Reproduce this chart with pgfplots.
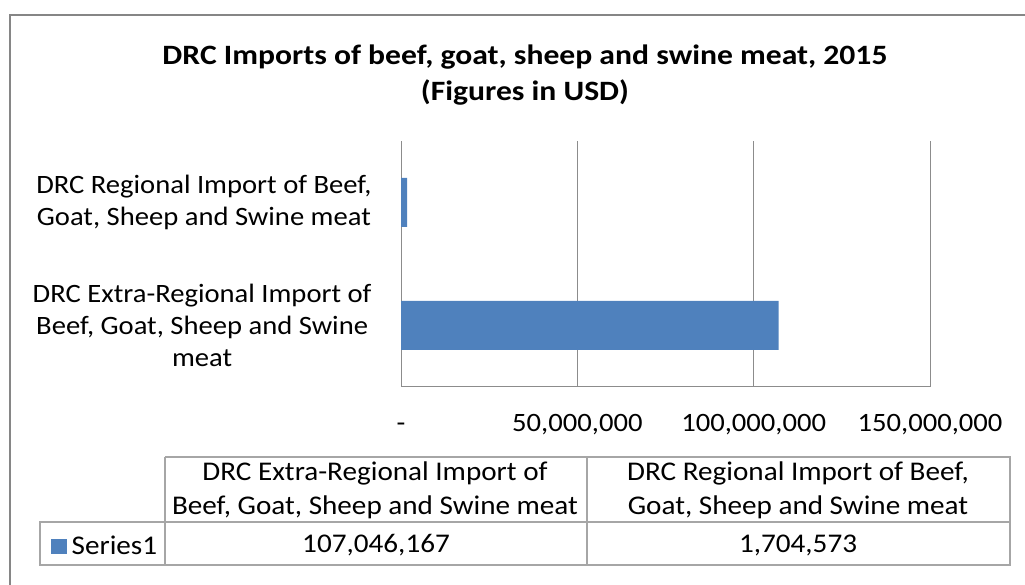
\documentclass[border=0pt]{standalone}
\usepackage{pgfplots}
\pgfplotsset{compat=1.18}
\usepackage{fontspec}
\setmainfont{Carlito}[FakeStretch=1.08]
\newfontfamily\titlefont{Carlito}[FakeStretch=1.13]
\definecolor{barblue}{HTML}{4F81BD}
\definecolor{gridgray}{HTML}{8C8C8C}
\definecolor{framegray}{HTML}{868686}
\definecolor{tablegray}{HTML}{A6A6A6}
\newcommand{\lbl}{\fontsize{26.5}{32}\selectfont}
\newcommand{\tbl}{\fontsize{27}{34}\selectfont}
\begin{document}
\begin{tikzpicture}[x=1pt,y=1pt]
\path[use as bounding box] (0,0) rectangle (1025,585);
\draw[framegray, line width=2pt] (10,-5) -- (10,569.5) -- (1030,569.5);
\node[align=center, font=\titlefont\fontsize{28}{36}\selectfont\bfseries] at (525,510) {DRC Imports of beef, goat, sheep and swine meat, 2015\\(Figures in USD)};
\begin{axis}[
  at={(401pt,198pt)}, anchor=south west,
  scale only axis, width=529pt, height=246pt,
  xbar, bar width=49pt,
  xmin=0, xmax=150000000, ymin=-0.5, ymax=1.5,
  xtick={0,50000000,100000000,150000000},
  xticklabels={-,{50,000,000},{100,000,000},{150,000,000}},
  ytick={0,1},
  yticklabels={{DRC Extra-Regional Import of\\Beef, Goat, Sheep and Swine\\meat},{DRC Regional Import of Beef,\\Goat, Sheep and Swine meat}},
  axis x line*=bottom, axis y line*=left,
  axis line style={draw=gridgray, line width=1pt},
  xmajorgrids, grid style={gridgray, line width=1pt},
  major tick style={draw=none},
  ticklabel style={font=\lbl},
  xticklabel style={anchor=base, yshift=-45pt},
  yticklabel style={align=center, anchor=east, inner sep=0pt, xshift=-25pt},
  scaled x ticks=false,
]
\addplot[fill=barblue, draw=none] coordinates {(107046167,0) (1704573,1)};
\end{axis}
\draw[tablegray, line width=1.3pt] (165,128) -- (1010,128) -- (1010,20) -- (40,20) -- (40,63) -- (1010,63);
\draw[tablegray, line width=1.3pt] (165,128) -- (165,20);
\draw[tablegray, line width=1.3pt] (587,128) -- (587,20);
\node[align=center, font=\tbl] at (375,95) {DRC Extra-Regional Import of\\Beef, Goat, Sheep and Swine meat};
\node[align=center, font=\tbl] at (798,95) {DRC Regional Import of Beef,\\Goat, Sheep and Swine meat};
\node[font=\tbl] at (376,40) {107,046,167};
\node[font=\tbl] at (798,40) {1,704,573};
\node[font=\tbl, anchor=west, inner sep=0pt] at (51,40) {\textcolor{barblue}{\rule{16pt}{15pt}}\,Series1};
\end{tikzpicture}
\end{document}
